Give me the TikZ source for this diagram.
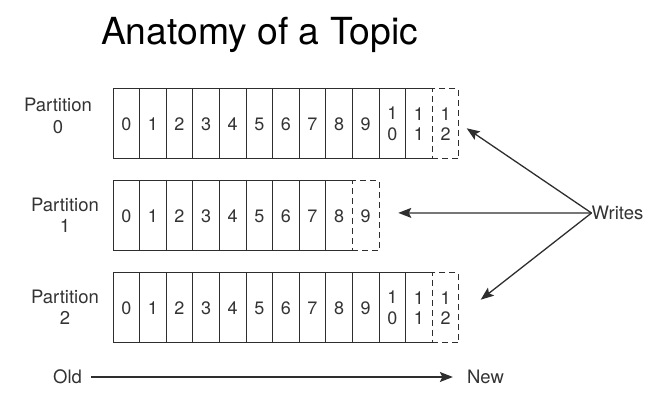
\documentclass[tikz,border=0pt]{standalone}
\usepackage{fontspec}
\setmainfont{TeX Gyre Heros}
\usetikzlibrary{arrows.meta}
\definecolor{linegray}{HTML}{2E2E2E}
\definecolor{textgray}{HTML}{333333}
\begin{document}
\begin{tikzpicture}[x=1pt,y=-1pt,
  cell/.style={minimum width=26.6pt, minimum height=70pt, inner sep=0pt, outer sep=0pt,
    font=\fontsize{18}{20.5}\selectfont, text=textgray, align=center, anchor=north west},
  solidcell/.style={cell, draw=linegray, line width=1pt},
  opencell/.style={cell},
  newcell/.style={cell, draw=linegray, line width=1pt, dash pattern=on 6pt off 4pt},
  cellline/.style={draw=linegray, line width=1pt},
  lbl/.style={font=\fontsize{18.5}{21.5}\selectfont, text=textgray, align=center, inner sep=0pt},
  arr/.style={draw=linegray, line width=1.3pt, -{Stealth[length=13pt,width=10pt,inset=2.5pt]}}
]
\useasboundingbox (0,0) rectangle (659,419);

\node[font=\fontsize{37.3}{44}\selectfont, anchor=base, inner sep=0pt] (title) at (259.5,45) {Anatomy of a Topic};

% Partition 0
\node[lbl] (l0) at (58,116) {Partition\\0};
\foreach \i/\t in {0/0,1/1,2/2,3/3,4/4,5/5,6/6,7/7,8/8,9/9,10/{1\\0}}
  \node[solidcell] (p0c\i) at ({113+\i*26.6},89) {\t};
\node[opencell] (p0c11) at ({113+11*26.6},89) {1\\1};
\draw[cellline] (p0c11.north east) -- (p0c11.north west) -- (p0c11.south west) -- (p0c11.south east);
\node[newcell] (p0c12) at ({113+12*26.6},89) {1\\2};

% Partition 1
\node[lbl] (l1) at (65,215.5) {Partition\\1};
\foreach \i in {0,...,7}
  \node[solidcell] (p1c\i) at ({113+\i*26.6},181) {\i};
\node[opencell] (p1c8) at ({113+8*26.6},181) {8};
\draw[cellline] (p1c8.north east) -- (p1c8.north west) -- (p1c8.south west) -- (p1c8.south east);
\node[newcell] (p1c9) at ({113+9*26.6},181) {9};

% Partition 2
\node[lbl] (l2) at (65,307.5) {Partition\\2};
\foreach \i/\t in {0/0,1/1,2/2,3/3,4/4,5/5,6/6,7/7,8/8,9/9,10/{1\\0}}
  \node[solidcell] (p2c\i) at ({113+\i*26.6},273) {\t};
\node[opencell] (p2c11) at ({113+11*26.6},273) {1\\1};
\draw[cellline] (p2c11.north east) -- (p2c11.north west) -- (p2c11.south west) -- (p2c11.south east);
\node[newcell] (p2c12) at ({113+12*26.6},273) {1\\2};

% Writes
\node[lbl, anchor=west] (writes) at (591.5,213) {Writes};
\coordinate (t0) at (466.7,128.3);
\coordinate (t1) at (398.3,212.9);
\coordinate (t2) at (480.7,299.7);
\draw[arr] (writes.west) -- (t0);
\draw[arr] (writes.west) -- (t1);
\draw[arr] (writes.west) -- (t2);

% Old -> New
\node[lbl] (old) at (67.5,377) {Old};
\node[lbl] (new) at (485.5,377) {New};
\draw[arr, shorten <=9pt, shorten >=14pt] (old.east) -- (new.west);
\end{tikzpicture}
\end{document}
